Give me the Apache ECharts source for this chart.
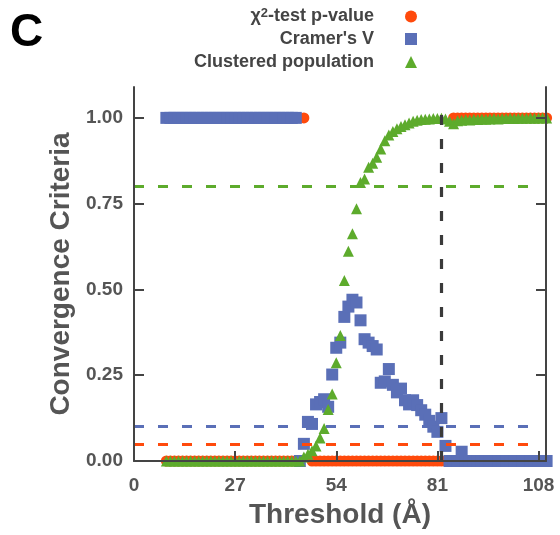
<!DOCTYPE html>
<html><head><meta charset="utf-8">
<script src="https://cdn.jsdelivr.net/npm/echarts@6/dist/echarts.min.js"></script>
<style>html,body{margin:0;padding:0;background:#fff}#c{width:560px;height:535px}</style>
</head><body><div id="c"></div>
<script>
// Threshold values (Å)
const thresholds = [
  8.64, 9.72, 10.8, 11.88, 12.96, 14.04, 15.12, 16.2, 17.28, 18.36,
  19.44, 20.52, 21.6, 22.68, 23.76, 24.84, 25.92, 27.0, 28.08, 29.16,
  30.24, 31.32, 32.4, 33.48, 34.56, 35.64, 36.72, 37.8, 38.88, 39.96,
  41.04, 42.12, 43.2, 44.28, 45.36, 46.44, 47.52, 48.6, 49.68, 50.76,
  51.84, 52.92, 54.0, 55.08, 56.16, 57.24, 58.32, 59.4, 60.48, 61.56,
  62.64, 63.72, 64.8, 65.88, 66.96, 68.04, 69.12, 70.2, 71.28, 72.36,
  73.44, 74.52, 75.6, 76.68, 77.76, 78.84, 79.92, 81.0, 82.08, 83.16,
  84.24, 85.32, 86.4, 87.48, 88.56, 89.64, 90.72, 91.8, 92.88, 93.96,
  95.04, 96.12, 97.2, 98.28, 99.36, 100.44, 101.52, 102.6, 103.68, 104.76,
  105.84, 106.92, 108.0, 109.08, 110.16
];
// chi-square test p-value
const pValue = [
  0, 0, 0, 0, 0, 0, 0, 0, 0, 0,
  0, 0, 0, 0, 0, 0, 0, 0, 0, 0,
  0, 0, 0, 0, 0, 0, 0, 0, 0, 0,
  0, 0, 0, 0, 1, null, 0, 0, 0, 0,
  0, 0, 0, 0, 0, 0, 0, 0, 0, 0,
  0, 0, 0, 0, 0, 0, 0, 0, 0, 0,
  0, 0, 0, 0, 0, 0, 0, 0, 0, null,
  null, 1, 1, 1, 1, 1, 1, 1, 1, 1,
  1, 1, 1, 1, 1, 1, 1, 1, 1, 1,
  1, 1, 1, 1, 1
];
// Cramer's V
const cramersV = [
  1, 1, 1, 1, 1, 1, 1, 1, 1, 1,
  1, 1, 1, 1, 1, 1, 1, 1, 1, 1,
  1, 1, 1, 1, 1, 1, 1, 1, 1, 1,
  1, 1, 1, 0, 0.05, 0.114, 0.108, 0.165, 0.172, 0.18,
  0.158, 0.252, 0.33, 0.345, 0.42, 0.45, 0.47, 0.462, 0.41, 0.355,
  0.345, 0.335, 0.325, 0.228, 0.232, 0.268, 0.222, 0.2, 0.211, 0.177,
  0.165, 0.177, 0.163, 0.148, 0.135, 0.117, 0.1, 0.085, 0.125, 0.044,
  0, 0, 0, 0.027, 0, 0, 0, 0, 0, 0,
  0, 0, 0, 0, 0, 0, 0, 0, 0, 0,
  0, 0, 0, 0, 0
];
// Clustered population
const clustered = [
  0, 0, 0, 0, 0, 0, 0, 0, 0, 0,
  0, 0, 0, 0, 0, 0, 0, 0, 0, 0,
  0, 0, 0, 0, 0, 0, 0, 0, 0, 0,
  0, 0, 0, 0, 0.012, 0.02, 0.03, 0.044, 0.067, 0.095,
  0.15, 0.195, 0.286, 0.366, 0.526, 0.611, 0.662, 0.735, 0.812, 0.822,
  0.856, 0.868, 0.885, 0.909, 0.933, 0.95, 0.96, 0.968, 0.975, 0.98,
  0.985, 0.99, 0.993, 0.995, 0.996, 0.997, 0.998, 0.998, 0.999, 0.997,
  0.99, 0.983, 0.992, 0.993, 0.995, 0.994, 0.996, 0.995, 0.997, 0.996,
  0.997, 0.998, 0.997, 0.998, 0.998, 0.999, 0.998, 0.999, 0.999, 0.999,
  1.0, 0.999, 1.0, 1.0, 1.0
];
const seriesNames = ['χ2-test p-value', "Cramer's V", 'Clustered population'];
const xTicks = [0, 27, 54, 81, 108];
const yTicks = [0, 0.25, 0.5, 0.75, 1.0];
const pValueCutoff = 0.05;
const cramerCutoff = 0.1;
const clusteredCutoff = 0.8;
const convergedThreshold = 82.08;

const COLORS = {p: '#ff4a0c', v: '#5a6fb7', c: '#5dab2c'};
const FONT = '"Liberation Sans", Arial, sans-serif';

function pairs(arr) {
  return thresholds.map((x, i) => (arr[i] === null ? null : [x, arr[i]])).filter(d => d !== null);
}

const chart = echarts.init(document.getElementById('c'), null, {renderer: 'canvas'});

const axisCommon = {
  axisLine: {show: true, lineStyle: {color: '#444', width: 2}},
  splitLine: {show: false}
};

function legendFor(i, top, icon) {
  return {
    data: [{name: seriesNames[i], icon: icon}],
    orient: 'vertical', align: 'right',
    right: 138, top: top,
    itemWidth: 12, itemHeight: 12, itemGap: 0,
    selectedMode: false,
    itemStyle: {opacity: 1},
    formatter: function (name) {
      return name === seriesNames[0] ? 'χ{sup|2}-test p-value' : name;
    },
    textStyle: {
      fontFamily: FONT, fontSize: 18, fontWeight: 'bold', color: '#444',
      padding: [0, 26, 0, 0],
      rich: {sup: {fontFamily: FONT, fontSize: 13, fontWeight: 'bold', color: '#444', verticalAlign: 'top', padding: [0, 0, 6, 0]}}
    }
  };
}

function guide(color) {
  return {color: color, width: 3.2, type: [10, 14], opacity: 1};
}

const option = {
  animation: false,
  backgroundColor: '#fff',
  grid: {left: 134, right: 14, top: 87, bottom: 74, containLabel: false, outerBoundsMode: 'none'},
  legend: [legendFor(0, 2, 'circle'), legendFor(1, 25, 'rect'), legendFor(2, 48, 'triangle')],
  graphic: [{
    type: 'text', x: 10, y: 33,
    style: {text: 'C', font: 'bold 46px ' + FONT, fill: '#000', verticalAlign: 'middle', align: 'left'}
  }],
  xAxis: Object.assign({}, axisCommon, {
    type: 'value', min: 0, max: 110, interval: 27, z: 5,
    axisTick: {show: true, inside: true, length: 10, lineStyle: {color: '#444', width: 2}, customValues: xTicks},
    axisLabel: {customValues: xTicks, margin: 15, fontFamily: FONT, fontSize: 19, fontWeight: 'bold', color: '#555'},
    name: 'Threshold (Å)', nameLocation: 'middle', nameGap: 40,
    nameTextStyle: {fontFamily: FONT, fontSize: 28, fontWeight: 'bold', color: '#555'}
  }),
  yAxis: [
    Object.assign({}, axisCommon, {
      type: 'value', min: 0, max: 1.09, interval: 0.25, position: 'left', z: 5,
      axisTick: {show: true, inside: true, length: 10, lineStyle: {color: '#444', width: 2}, customValues: yTicks},
      axisLabel: {customValues: yTicks, margin: 11, fontFamily: FONT, fontSize: 19, fontWeight: 'bold', color: '#555',
        formatter: v => v.toFixed(2)},
      name: 'Convergence Criteria', nameLocation: 'middle', nameGap: 57,
      nameTextStyle: {fontFamily: FONT, fontSize: 28, fontWeight: 'bold', color: '#555'}
    }),
    Object.assign({}, axisCommon, {
      type: 'value', min: 0, max: 1.09, interval: 0.25, position: 'right', z: 5,
      axisTick: {show: true, inside: true, length: 10, lineStyle: {color: '#444', width: 2}, customValues: yTicks},
      axisLabel: {show: false}
    })
  ],
  series: [
    {
      type: 'scatter', name: 'guides', data: [], z: 1, silent: true,
      markLine: {
        silent: true, symbol: ['none', 'none'], label: {show: false}, animation: false,
        lineStyle: {width: 3.2, type: [10, 14], opacity: 1},
        data: [
          [{coord: [0, clusteredCutoff], lineStyle: guide(COLORS.c)}, {coord: [108, clusteredCutoff]}],
          [{coord: [0, cramerCutoff], lineStyle: guide(COLORS.v)}, {coord: [108, cramerCutoff]}],
          [{coord: [0, pValueCutoff], lineStyle: guide(COLORS.p)}, {coord: [108, pValueCutoff]}],
          [{coord: [convergedThreshold, 0], lineStyle: guide('#3a3a3a')}, {coord: [convergedThreshold, 1.02]}]
        ]
      }
    },
    {type: 'scatter', name: seriesNames[0], data: pairs(pValue), symbol: 'circle', symbolSize: 11,
      itemStyle: {color: COLORS.p, opacity: 1}, z: 2, clip: false},
    {type: 'scatter', name: seriesNames[1], data: pairs(cramersV), symbol: 'rect', symbolSize: 12,
      itemStyle: {color: COLORS.v, opacity: 1}, z: 3, clip: false},
    {type: 'scatter', name: seriesNames[2], data: pairs(clustered), symbol: 'triangle', symbolSize: 11,
      itemStyle: {color: COLORS.c, opacity: 1}, z: 4, clip: false}
  ]
};
chart.setOption(option);
</script>
</body></html>
